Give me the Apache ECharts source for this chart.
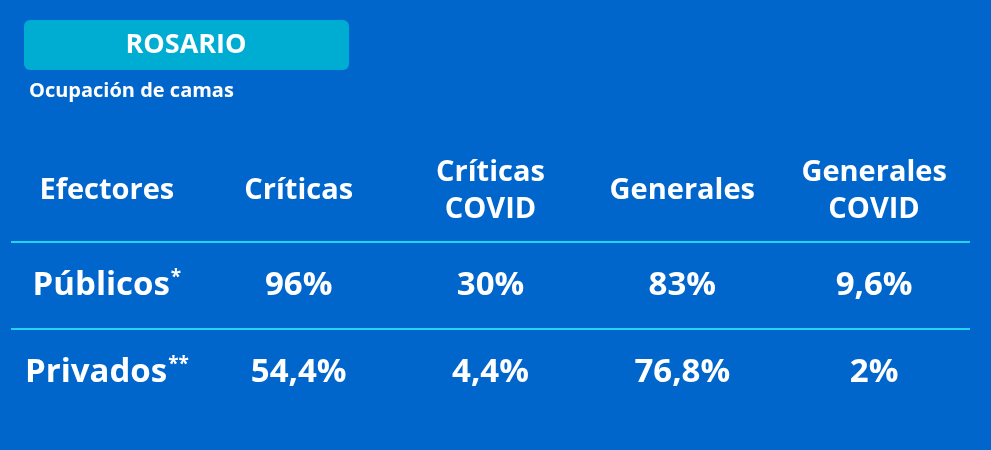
<!DOCTYPE html>
<html lang="es">
<head>
    <meta charset="UTF-8">
    <title>Rosario - Ocupación de camas</title>
    <style>
        html, body { margin: 0; padding: 0; background: #0066cc; }
    </style>
</head>
<body>
<div id="main" style="width: 991px;height: 450px;"></div>
<script src="https://cdn.jsdelivr.net/npm/echarts@6/dist/echarts.min.js"></script>
<script>
    // columnas y filas de la tabla
    var columnas = ['Efectores', 'Críticas', 'Críticas\nCOVID', 'Generales', 'Generales\nCOVID'];
    var efectores = ['Públicos*', 'Privados**'];
    // porcentajes de ocupación por efector
    var criticas = [96, 54.4];
    var criticasCovid = [30, 4.4];
    var generales = [83, 76.8];
    var generalesCovid = [9.6, 2];

    var titulo = 'ROSARIO';
    var subtitulo = 'Ocupación de camas';

    function pct(v) {
        return String(v).replace('.', ',') + '%';
    }

    // asteriscos como superíndice
    function nombreEfector(s) {
        var m = s.match(/^(.*?)(\**)$/);
        return '{n|' + m[1] + '}' + (m[2] ? '{s|' + m[2] + '}' : '');
    }

    var celdas = [];
    var valores = [criticas, criticasCovid, generales, generalesCovid];
    efectores.forEach(function (nombre, fila) {
        celdas.push({ value: [0, fila], texto: nombreEfector(nombre) });
        valores.forEach(function (serie, col) {
            celdas.push({ value: [col + 1, fila], texto: '{n|' + pct(serie[fila]) + '}' });
        });
    });

    var fuente = '"Open Sans"';
    var myChart = echarts.init(document.getElementById('main'));
    var option = {
        backgroundColor: '#0066cc',
        animation: false,
        graphic: [
            {
                type: 'rect',
                shape: { x: 24, y: 20, width: 325, height: 50, r: 6 },
                style: { fill: '#00add2' }
            },
            {
                type: 'text',
                x: 186, y: 45,
                style: {
                    text: titulo, fill: '#fff', font: 'bold 27px ' + fuente,
                    textAlign: 'center', textVerticalAlign: 'middle'
                }
            },
            {
                type: 'text',
                x: 29, y: 91,
                style: {
                    text: subtitulo, fill: '#fff', font: 'bold 20px ' + fuente,
                    textAlign: 'left', textVerticalAlign: 'middle'
                }
            }
        ],
        grid: { left: 11, right: 21, top: 242, bottom: 34 },
        xAxis: {
            type: 'category',
            position: 'top',
            data: columnas,
            axisLine: { show: false },
            axisTick: { show: false },
            axisLabel: {
                color: '#fff', fontFamily: fuente, fontWeight: 'bold', fontSize: 29,
                lineHeight: 37, verticalAlign: 'middle', margin: 51, interval: 0
            }
        },
        yAxis: {
            type: 'category',
            inverse: true,
            data: efectores,
            axisLine: { show: false },
            axisTick: { show: false },
            axisLabel: { show: false },
            splitLine: {
                show: true,
                showMinLine: true,
                showMaxLine: false,
                lineStyle: { color: '#22d4f2', width: 2 }
            }
        },
        series: [{
            type: 'scatter',
            symbolSize: 0,
            itemStyle: { opacity: 1 },
            data: celdas,
            label: {
                show: true,
                position: 'inside',
                color: '#fff',
                fontFamily: fuente,
                fontWeight: 'bold',
                formatter: function (p) { return p.data.texto; },
                rich: {
                    n: { fontSize: 33, fontFamily: fuente, fontWeight: 'bold', color: '#fff' },
                    s: { fontSize: 19, fontFamily: fuente, fontWeight: 'bold', color: '#fff', padding: [0, 0, 16, 1] }
                }
            }
        }]
    };
    myChart.setOption(option);
</script>
</body>
</html>
